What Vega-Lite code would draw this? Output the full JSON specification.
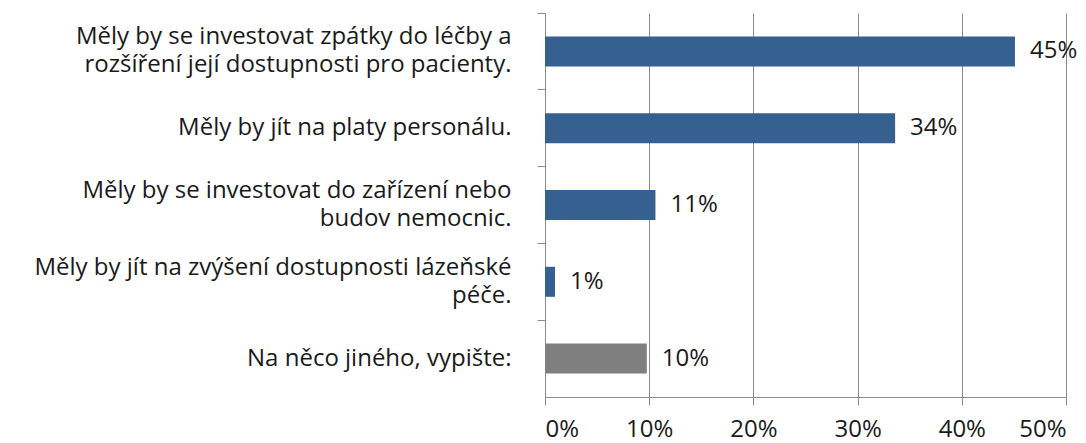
{
  "$schema": "https://vega.github.io/schema/vega-lite/v6.json",
  "autosize": "none",
  "width": 521,
  "height": 384,
  "padding": {"left": 545, "top": 13, "right": 20, "bottom": 46},
  "background": "white",
  "config": {"view": {"stroke": null}, "font": "Open Sans"},
  "data": {
    "values": [
      {"label": "Měly by se investovat zpátky do léčby a|rozšíření její dostupnosti pro pacienty.", "value": 0.451, "text": "45%", "group": "a"},
      {"label": "Měly by jít na platy personálu.", "value": 0.336, "text": "34%", "group": "a"},
      {"label": "Měly by se investovat do zařízení nebo|budov nemocnic.", "value": 0.106, "text": "11%", "group": "a"},
      {"label": "Měly by jít na zvýšení dostupnosti lázeňské|péče.", "value": 0.0096, "text": "1%", "group": "a"},
      {"label": "Na něco jiného, vypište:", "value": 0.0977, "text": "10%", "group": "b"}
    ]
  },
  "encoding": {
    "y": {
      "field": "label",
      "type": "nominal",
      "sort": null,
      "scale": {"paddingInner": 0, "paddingOuter": 0},
      "axis": {
        "title": null,
        "labelExpr": "split(datum.label, '|')",
        "labelFont": "Open Sans",
        "labelFontSize": 24,
        "labelColor": "#1a1a1a",
        "labelLineHeight": 28,
        "labelPadding": 26,
        "labelLimit": 600,
        "labelOffset": {"condition": {"test": "isString(datum.value) && indexof(datum.value, '|') >= 0", "value": -14}, "value": 0},
        "bandPosition": 0,
        "tickExtra": true,
        "tickSize": 8,
        "tickColor": "#8c8c8c",
        "domainColor": "#8c8c8c",
        "grid": false
      }
    },
    "x": {
      "field": "value",
      "type": "quantitative",
      "scale": {"domain": [0, 0.5], "nice": false},
      "axis": {
        "title": null,
        "values": [0, 0.1, 0.2, 0.3, 0.4, 0.5],
        "format": ".0%",
        "labelFont": "Open Sans",
        "labelFontSize": 24,
        "labelColor": "#1a1a1a",
        "labelPadding": 12,
        "tickSize": 8,
        "tickColor": "#8c8c8c",
        "domainColor": "#8c8c8c",
        "grid": true,
        "gridColor": "#8c8c8c",
        "gridWidth": 1
      }
    }
  },
  "layer": [
    {
      "mark": {"type": "bar", "size": 30},
      "encoding": {
        "color": {
          "field": "group",
          "type": "nominal",
          "scale": {"domain": ["a", "b"], "range": ["#35608f", "#7f7f7f"]},
          "legend": null
        }
      }
    },
    {
      "mark": {"type": "text", "align": "left", "dx": 15, "font": "Open Sans", "fontSize": 24, "color": "#1a1a1a"},
      "encoding": {"text": {"field": "text"}}
    }
  ]
}
